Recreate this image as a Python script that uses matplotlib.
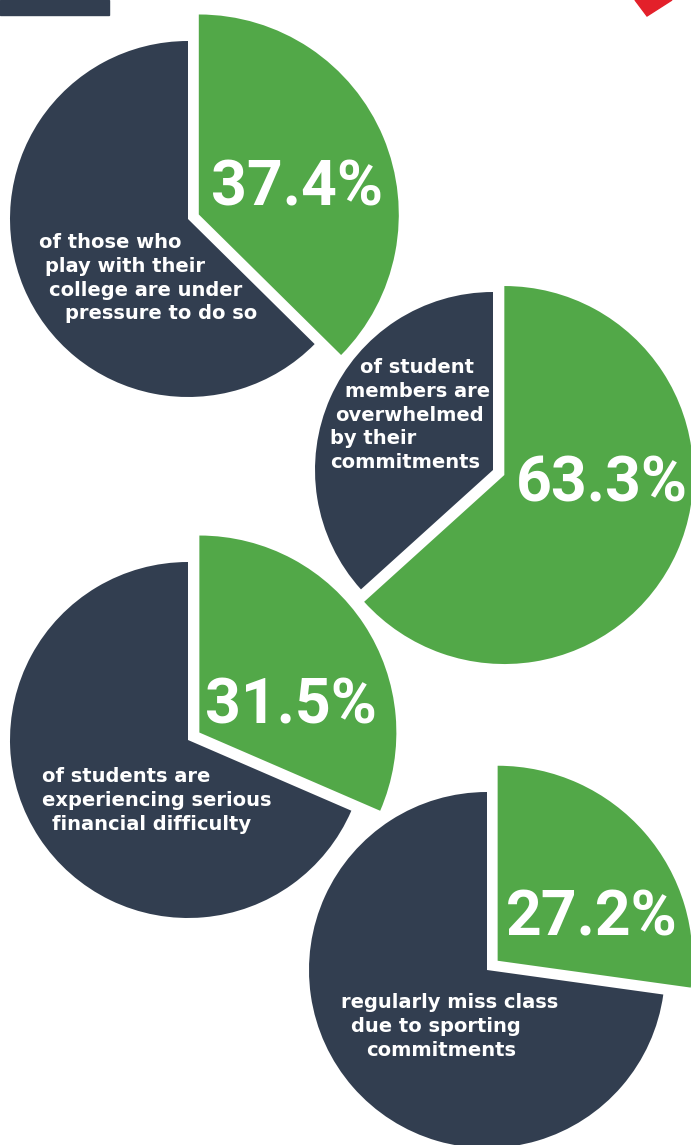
import matplotlib.pyplot as plt
from matplotlib.patches import Polygon, Rectangle

# survey results: share of students answering yes
shares = [37.4, 63.3, 31.5, 27.2]
captions = [
    ["of those who", "play with their", "college are under", "pressure to do so"],
    ["of student", "members are", "overwhelmed", "by their", "commitments"],
    ["of students are", "experiencing serious", "financial difficulty"],
    ["regularly miss class", "due to sporting", "commitments"],
]

W, H = 691, 1145
NAVY = "#323e50"
GREEN = "#52a848"
RED = "#e3202a"
BIG_FONT = ["Roboto", "DejaVu Sans"]
CAP_FONT = ["DejaVu Sans"]

# per pie: centre, navy radius, green radius, explode (px), big label (x, baseline),
# caption first baseline and left edge of each caption line (pixel units, y up)
layout = [
    dict(c=(188, 926), r=178, rg=200, ex=11.7, lab=(297, 940),
         cap_y=897, cap_x=[39, 45, 49, 65]),
    dict(c=(493, 675), r=178, rg=189, ex=12.4, lab=(602, 643),
         cap_y=772, cap_x=[360, 345, 335, 330, 330]),
    dict(c=(188, 405), r=178, rg=197, ex=13.6, lab=(291, 422),
         cap_y=363, cap_x=[42, 42, 52]),
    dict(c=(487, 175), r=178, rg=195, ex=14.1, lab=(592, 210),
         cap_y=137, cap_x=[341, 351, 366]),
]
line_gap = 23.8

fig = plt.figure(figsize=(W / 100, H / 100), dpi=100)
ax = fig.add_axes([0, 0, 1, 1])

for share, lines, lo in zip(shares, captions, layout):
    vals = [share, 100 - share]
    # navy remainder
    w, _ = ax.pie(vals, colors=[GREEN, NAVY], startangle=90, counterclock=False,
                  radius=lo["r"], center=lo["c"], frame=True)
    w[0].set_visible(False)
    # green slice, bigger and pushed out
    w, _ = ax.pie(vals, colors=[GREEN, NAVY], startangle=90, counterclock=False,
                  radius=lo["rg"], center=lo["c"], explode=[lo["ex"], 0],
                  frame=True)
    w[1].set_visible(False)

    ax.text(lo["lab"][0], lo["lab"][1], f"{share:.1f}%", color="white",
            fontsize=45, fontweight="bold", family=BIG_FONT,
            ha="center", va="baseline")
    for i, (line, x) in enumerate(zip(lines, lo["cap_x"])):
        ax.text(x, lo["cap_y"] - i * line_gap, line, color="white",
                fontsize=14, fontweight="bold", family=CAP_FONT,
                ha="left", va="baseline")

# header bits at the top edge
ax.add_patch(Rectangle((0, H - 15), 109, 15, color=NAVY))
ax.add_patch(Polygon([(635, H), (672, H), (647, H - 16)], closed=True, color=RED))

ax.set_xlim(0, W)
ax.set_ylim(0, H)
ax.set_aspect("equal")
ax.axis("off")

fig.savefig("out.png", dpi=100, facecolor="white")
